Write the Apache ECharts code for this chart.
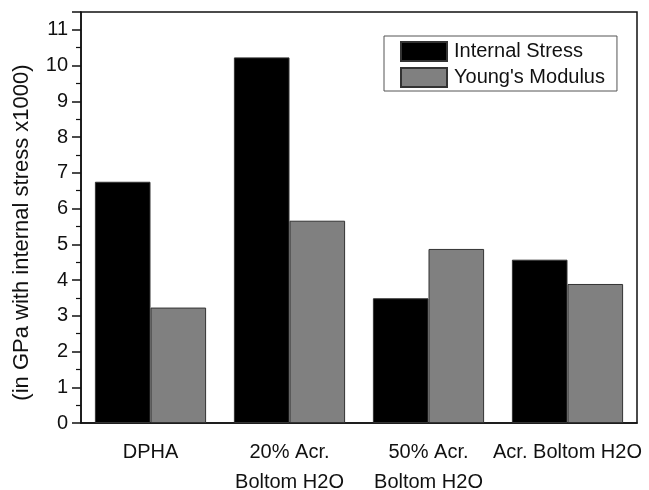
<!DOCTYPE html>
<html>
<head>
<meta charset="utf-8">
<script src="https://cdn.jsdelivr.net/npm/echarts@6/dist/echarts.min.js"></script>
<style>html,body{margin:0;padding:0;background:#fff}#c{width:649px;height:490px}</style>
</head>
<body>
<div id="c"></div>
<script>
const categories = ['DPHA', '20% Acr.\nBoltom H2O', '50% Acr.\nBoltom H2O', 'Acr. Boltom H2O'];
const internalStress = [6.75, 10.23, 3.49, 4.57];
const youngsModulus = [3.23, 5.66, 4.87, 3.89];
const yTicks = [0, 1, 2, 3, 4, 5, 6, 7, 8, 9, 10, 11];

const FONT = 'Liberation Sans, Arial, Helvetica, sans-serif';
const chart = echarts.init(document.getElementById('c'), null, {renderer: 'canvas'});
chart.setOption({
  animation: false,
  backgroundColor: '#fff',
  textStyle: {fontFamily: FONT},
  grid: {left: 81, right: 12, top: 12, bottom: 67, containLabel: false, outerBoundsMode: 'none',
    show: true, borderColor: '#111', borderWidth: 1.5, backgroundColor: 'transparent'},
  legend: {
    orient: 'vertical', left: 384, top: 36,
    itemWidth: 46, itemHeight: 19, itemGap: 5,
    padding: [5, 12, 3, 16],
    borderColor: '#555', borderWidth: 1,
    icon: 'rect',
    textStyle: {fontFamily: FONT, fontSize: 20, color: '#111', padding: [0, 0, 0, 2]},
    data: ['Internal Stress', "Young's Modulus"]
  },
  xAxis: [{
    type: 'category', data: categories,
    axisLine: {lineStyle: {color: '#111', width: 1.5}},
    axisTick: {alignWithLabel: true, length: 7, lineStyle: {color: '#111', width: 1.5}},
    axisLabel: {interval: 0, fontFamily: FONT, fontSize: 20, color: '#111', lineHeight: 30, margin: 14},
    splitLine: {show: false}
  }, {
    type: 'category', data: categories, position: 'bottom',
    axisLine: {show: false},
    axisTick: {alignWithLabel: false, length: 4, lineStyle: {color: '#111', width: 1.5}},
    axisLabel: {show: false},
    splitLine: {show: false}
  }],
  yAxis: {
    type: 'value', min: 0, max: 11.5, interval: 1,
    name: '(in GPa with internal stress x1000)',
    nameLocation: 'middle', nameRotate: 90, nameGap: 48,
    nameTextStyle: {fontFamily: FONT, fontSize: 22, color: '#111', padding: [0, 30, 0, 0]},
    axisLine: {show: true, lineStyle: {color: '#111', width: 1.5}},
    axisTick: {show: true, inside: false, length: 9, lineStyle: {color: '#111', width: 1.5}},
    minorTick: {show: true, splitNumber: 2, length: 5, lineStyle: {color: '#111', width: 1.2}},
    axisLabel: {fontFamily: FONT, fontSize: 20, color: '#111', margin: 13, showMaxLabel: false,
      formatter: v => (yTicks.indexOf(v) >= 0 ? String(v) : '')},
    splitLine: {show: false}
  },
  series: [{
    name: 'Internal Stress', type: 'bar', data: internalStress,
    barCategoryGap: '20%', barGap: '0%',
    itemStyle: {color: '#000', borderColor: '#333', borderWidth: 1}
  }, {
    name: "Young's Modulus", type: 'bar', data: youngsModulus,
    barCategoryGap: '20%', barGap: '0%',
    itemStyle: {color: '#808080', borderColor: '#333', borderWidth: 1}
  }]
});
</script>
</body>
</html>
